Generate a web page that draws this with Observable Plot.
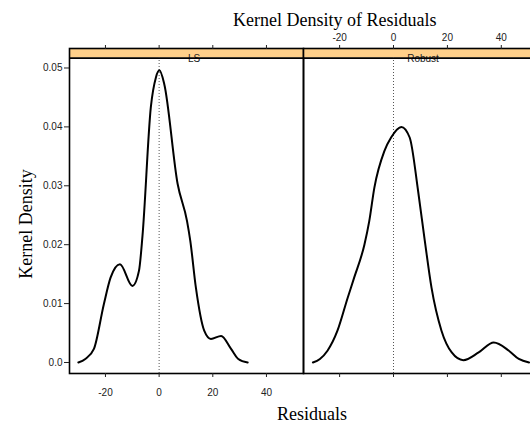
<!DOCTYPE html>
<html><head><meta charset="utf-8">
<script src="https://cdn.jsdelivr.net/npm/d3@7"></script>
<script src="https://cdn.jsdelivr.net/npm/@observablehq/plot@0.6"></script>
<style>
html,body{margin:0;padding:0;background:#fff;overflow:hidden;}
#wrap{position:relative;width:530px;height:423px;overflow:hidden;background:#fff;}
#wrap > svg{position:absolute;top:0;}
</style></head><body><div id="wrap"></div>
<script>
// ---- data ----
const panels = ["LS", "Robust"];
const lsX = [-30.1,-27.5,-24.3,-20.6,-18.1,-14.6,-9.95,-7.5,-6.2,-3.1,-1.2,0.1,1.9,6.9,10.4,11.6,13.7,16.8,19.3,23.1,26.8,29.5,33.0];
const lsY = [0,0.0006,0.0023,0.0099,0.0144,0.0167,0.0130,0.0156,0.0215,0.0433,0.0484,0.0496,0.0473,0.0303,0.0240,0.0207,0.0127,0.0054,0.0040,0.0045,0.0023,0.0006,0];
const robX = [-29.9,-27.3,-24.5,-20.8,-17.0,-14.6,-10.8,-9.0,-7.1,-3.4,-0.9,2.9,6.0,9.1,11.6,14.1,17.8,21.6,25.9,31.6,37.2,42.8,46.5,50.3];
const robY = [0,0.0006,0.0020,0.0054,0.0110,0.0144,0.0200,0.0240,0.0297,0.0359,0.0382,0.0400,0.0382,0.0292,0.0207,0.0127,0.0054,0.0017,0.0004,0.0017,0.0034,0.0020,0.0006,0];
const xTicks = [-20, 0, 20, 40];
const yTicks = [0, 0.01, 0.02, 0.03, 0.04, 0.05];
const titleText = "Kernel Density of Residuals";
const xLabelText = "Residuals";
const yLabelText = "Kernel Density";

// ---- scales / layout ----
const xDom = [-33.4, 53.8];
const yPanelTop = 0.05168;          // top of the data panel
const yDom = [-0.00187, 0.05331];   // includes the strip above the panel
const stripFill = "#ffd08a";
const H = 423, MT = 48, MB = 50;

const series = {
  LS: lsX.map((x, i) => ({x, y: lsY[i]})),
  Robust: robX.map((x, i) => ({x, y: robY[i]}))
};

function panel(name, opts) {
  const marks = [
    Plot.rect([name], {x1: () => xDom[0], x2: () => xDom[1], y1: () => yPanelTop, y2: () => yDom[1], fill: stripFill}),
    Plot.text([name], {text: d => d, frameAnchor: "top", dx: opts.labelDx, dy: 6.7, fontSize: 10, fill: "#222"}),
    Plot.ruleY([yPanelTop], {stroke: "#000", strokeWidth: 1.6}),
    Plot.ruleX([0], {y1: () => yDom[0], y2: () => yPanelTop, stroke: "#555", strokeDasharray: "1,2", strokeWidth: 1}),
    Plot.line(series[name], {x: "x", y: "y", curve: "monotone-x", stroke: "#000", strokeWidth: 2}),
    Plot.frame({stroke: "#000", strokeWidth: 1.6}),
  ];
  const fmt = d => String(d);
  if (opts.left) {
    marks.push(Plot.axisY(yTicks, {anchor: "left", tickSize: 5, tickPadding: 2, fontSize: 10, label: null,
      tickFormat: d => d === 0 ? "0.0" : String(d)}));
    marks.push(Plot.axisX(xTicks, {anchor: "bottom", tickSize: 4, tickPadding: 11, fontSize: 10, label: null, tickFormat: fmt}));
    marks.push(Plot.axisX(xTicks, {anchor: "top", tickSize: 4, tickFormat: () => "", label: null}));
  } else {
    marks.push(Plot.axisX(xTicks, {anchor: "top", tickSize: 4, tickPadding: 4, fontSize: 10, label: null, tickFormat: fmt}));
    marks.push(Plot.axisX(xTicks, {anchor: "bottom", tickSize: 4, tickFormat: () => "", label: null}));
  }
  const svg = Plot.plot({
    width: opts.width, height: H,
    marginLeft: opts.ml, marginRight: 0, marginTop: MT, marginBottom: MB,
    x: {domain: xDom},
    y: {domain: yDom, axis: opts.left ? undefined : null},
    style: {fontFamily: "'Liberation Sans', Arial, sans-serif", fontSize: "10px", color: "#222", background: "transparent", overflow: "visible"},
    marks
  });
  svg.style.left = opts.left0 + "px";
  return svg;
}

const wrap = document.getElementById("wrap");
wrap.appendChild(panel("LS", {left: true, width: 303, ml: 69, labelDx: 7.5, left0: 0}));
wrap.appendChild(panel("Robust", {left: false, width: 236, ml: 1, labelDx: 2, left0: 302}));

// titles
const ns = "http://www.w3.org/2000/svg";
const ov = document.createElementNS(ns, "svg");
ov.setAttribute("width", 530); ov.setAttribute("height", 423);
ov.style.left = "0px"; ov.style.pointerEvents = "none";
function addText(str, x, y, rot) {
  const t = document.createElementNS(ns, "text");
  t.textContent = str;
  t.setAttribute("text-anchor", "middle");
  t.setAttribute("font-family", "'Liberation Serif', 'Times New Roman', serif");
  t.setAttribute("font-size", 18);
  t.setAttribute("fill", "#000");
  if (rot) t.setAttribute("transform", `translate(${x},${y}) rotate(-90)`);
  else { t.setAttribute("x", x); t.setAttribute("y", y); }
  ov.appendChild(t);
}
addText(titleText, 334.7, 26.4);
addText(xLabelText, 312, 420);
addText(yLabelText, 32, 224, true);
wrap.appendChild(ov);
</script></body></html>
